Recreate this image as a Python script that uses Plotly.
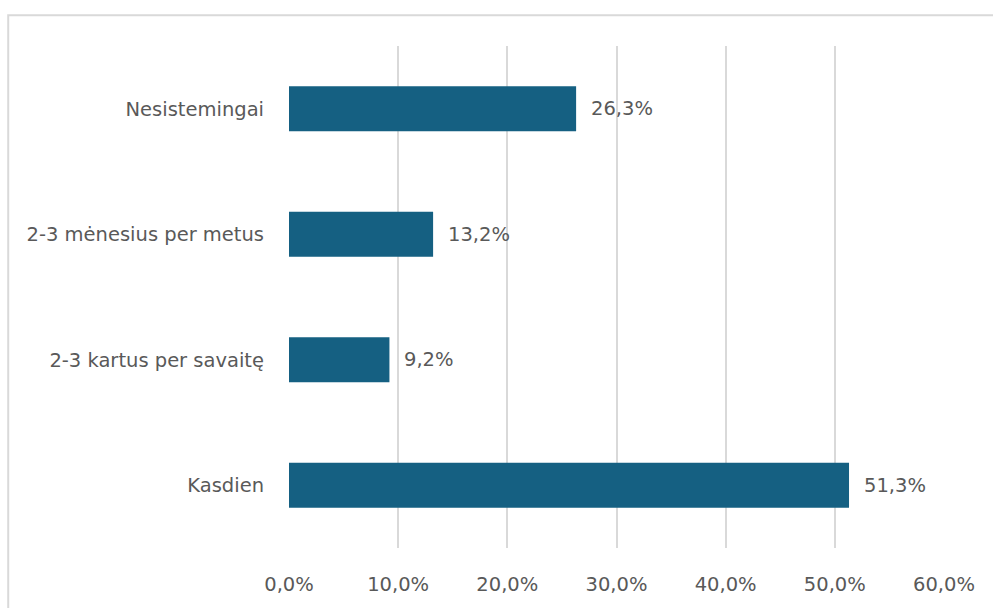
import plotly.graph_objects as go

# Survey frequency categories (bottom to top) and their shares in percent
categories = ["Kasdien", "2-3 kartus per savaitę", "2-3 mėnesius per metus", "Nesistemingai"]
shares = [51.3, 9.2, 13.2, 26.3]
tick_values = [0, 10, 20, 30, 40, 50, 60]
tick_labels = ["0,0%", "10,0%", "20,0%", "30,0%", "40,0%", "50,0%", "60,0%"]

def pct(v):
    return f"{v:.1f}".replace(".", ",") + "%"

W, H = 993, 608
L, R, T, B = 289, 48.5, 46, 57
TEXT = "#595959"
FONT = "'DejaVu Sans', 'Open Sans', sans-serif"

fig = go.Figure(
    go.Bar(
        x=shares,
        y=categories,
        orientation="h",
        marker=dict(color="#156082", line=dict(width=0)),
        hoverinfo="skip",
    )
)

# Value labels placed just right of each bar end
for cat, v in zip(categories, shares):
    fig.add_annotation(
        x=v, y=cat, text=pct(v), showarrow=False,
        xanchor="left", yanchor="middle", xshift=13,
        font=dict(family=FONT, size=19.5, color=TEXT),
    )

# Light grey chart border (left and top edges visible)
pw = W - L - R
ph = H - T - B
fig.add_shape(
    type="rect", xref="paper", yref="paper",
    x0=(8 - L) / pw, x1=(W + 20 - L) / pw,
    y0=-(B + 30) / ph, y1=1 + (T - 15) / ph,
    line=dict(color="#d9d9d9", width=2), fillcolor="rgba(0,0,0,0)",
    layer="below",
)

fig.update_layout(
    width=W, height=H,
    margin=dict(l=L, r=R, t=T, b=B, pad=0),
    paper_bgcolor="white", plot_bgcolor="white",
    bargap=0.64,
    showlegend=False,
    font=dict(family=FONT, color=TEXT, size=18),
    xaxis=dict(
        range=[0, 60], tickvals=tick_values, ticktext=tick_labels,
        showgrid=True, gridcolor="#d9d9d9", gridwidth=2,
        zeroline=False, showline=False, ticks="",
        tickfont=dict(family=FONT, size=19.5, color=TEXT),
        ticklabelstandoff=22,
        fixedrange=True,
    ),
    yaxis=dict(
        categoryorder="array", categoryarray=categories,
        showgrid=False, zeroline=False, showline=False, ticks="",
        tickfont=dict(family=FONT, size=19.5, color=TEXT),
        ticklabelstandoff=24,
        fixedrange=True,
    ),
)

fig.write_html("out.html")
